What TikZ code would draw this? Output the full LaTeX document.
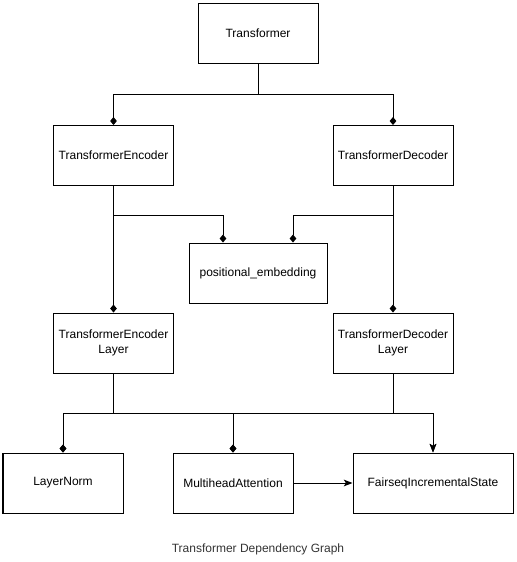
\documentclass[tikz,border=0pt]{standalone}
\usepackage{fontspec}
\setmainfont{Liberation Sans}
\usetikzlibrary{arrows.meta,calc}
\begin{document}
\begin{tikzpicture}[x=0.75pt,y=-0.75pt,
  box/.style={draw=black,line width=0.75pt,minimum width=90pt,minimum height=45pt,inner sep=0pt,align=center,font=\fontsize{9}{11}\selectfont,text=black},
  link/.style={draw=black,line width=0.75pt},
  dia/.style={link,-{Diamond[length=6pt,width=5pt]}},
  arr/.style={link,-{Stealth[length=6.5pt,width=5pt,inset=1.5pt]}}]
\useasboundingbox (0,0) rectangle (517,562);
\node[box] (T) at (258,33) {Transformer};
\node[box] (E) at (113.5,155.5) {TransformerEncoder};
\node[box] (D) at (393,155.5) {TransformerDecoder};
\node[box,minimum width=103.5pt] (P) at (258,273) {positional\_embedding};
\node[box] (EL) at (113.5,343) {TransformerEncoder\\Layer};
\node[box] (DL) at (393,343) {TransformerDecoder\\Layer};
\node[box] (LN) at (63,483) {LayerNorm};
\node[box] (MA) at (233,483) {MultiheadAttention};
\node[box,minimum width=120pt] (FS) at (433,483) {FairseqIncrementalState};
\node[font=\fontsize{9}{11}\selectfont,text=black!80] (cap) at (258,549) {Transformer Dependency Graph};
\draw[dia] (T.south) -- ++(0,31) -| (E.north);
\draw[dia] (T.south) -- ++(0,31) -| (D.north);
\draw[dia] (E.south) -- ++(0,29) -| ($(P.north)+(-35,0)$);
\draw[dia] (D.south) -- ++(0,29) -| ($(P.north)+(35,0)$);
\draw[dia] (E.south) -- (EL.north);
\draw[dia] (D.south) -- (DL.north);
\draw[dia] (EL.south) -- ++(0,40) -| (LN.north);
\draw[dia] (EL.south) -- ++(0,40) -| (MA.north);
\draw[arr] (EL.south) -- ++(0,40) -| (FS.north);
\draw[dia] (DL.south) -- ++(0,40) -| (LN.north);
\draw[dia] (DL.south) -- ++(0,40) -| (MA.north);
\draw[arr] (DL.south) -- ++(0,40) -| (FS.north);
\draw[arr] (MA.east) -- (FS.west);
\end{tikzpicture}
\end{document}
